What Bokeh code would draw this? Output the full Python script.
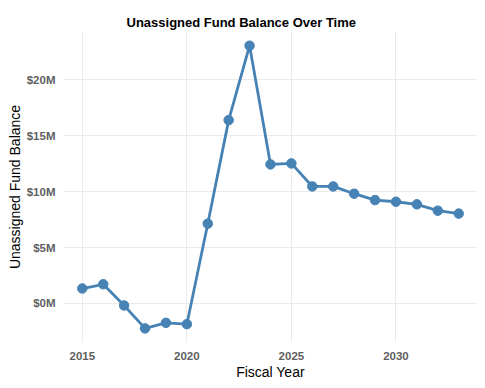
from bokeh.plotting import figure
from bokeh.models import FixedTicker, Range1d
from bokeh.embed import file_html
from bokeh.resources import INLINE

years = [2015, 2016, 2017, 2018, 2019, 2020, 2021, 2022, 2023, 2024,
         2025, 2026, 2027, 2028, 2029, 2030, 2031, 2032, 2033]
balance_m = [1.34, 1.72, -0.18, -2.23, -1.73, -1.85, 7.14, 16.4, 23.06, 12.44,
             12.53, 10.47, 10.47, 9.82, 9.25, 9.10, 8.87, 8.30, 8.04]
x_ticks = [2015, 2020, 2025, 2030]
y_ticks = [0, 5, 10, 15, 20]
y_tick_labels = ["$0M", "$5M", "$10M", "$15M", "$20M"]

FONT = "Liberation Sans"
COLOR = "#4682B4"

p = figure(frame_width=414, frame_height=311, output_backend="svg", toolbar_location=None,
           title="Unassigned Fund Balance Over Time",
           x_range=Range1d(2014.1, 2033.9), y_range=Range1d(-3.49, 24.33),
           min_border_left=63, min_border_right=0, min_border_top=31, min_border_bottom=36)

p.outline_line_color = None
p.background_fill_color = "white"
p.border_fill_color = "white"

p.title.text_font = FONT
p.title.text_font_size = "13px"
p.title.text_font_style = "bold"
p.title.text_color = "black"
p.title.align = "left"
p.title.offset = 63
p.title.standoff = 4

p.line(years, balance_m, line_color=COLOR, line_width=2.8)
p.scatter(years, balance_m, size=9.5, fill_color=COLOR, line_color=COLOR)

for ax in (p.xaxis[0], p.yaxis[0]):
    ax.axis_line_color = None
    ax.major_tick_line_color = None
    ax.minor_tick_line_color = None
    ax.major_tick_out = 0
    ax.major_tick_in = 0
    ax.minor_tick_out = 0
    ax.minor_tick_in = 0
    ax.major_label_text_font = FONT
    ax.major_label_text_font_size = "11.5px"
    ax.major_label_text_font_style = "bold"
    ax.major_label_text_color = "#5f5f5f"
    ax.axis_label_text_font = FONT
    ax.axis_label_text_font_size = "14px"
    ax.axis_label_text_font_style = "normal"
    ax.axis_label_text_color = "black"

p.xaxis.ticker = FixedTicker(ticks=x_ticks)
p.yaxis.ticker = FixedTicker(ticks=y_ticks)
p.yaxis.major_label_overrides = {t: l for t, l in zip(y_ticks, y_tick_labels)}
p.xaxis.axis_label = "Fiscal Year"
p.yaxis.axis_label = "Unassigned Fund Balance"
p.xaxis.major_label_standoff = 9
p.xaxis.axis_label_standoff = 1
p.yaxis.major_label_standoff = 8
p.yaxis.axis_label_standoff = 1

p.xgrid.grid_line_color = "#ebebeb"
p.ygrid.grid_line_color = "#ebebeb"
p.xgrid.grid_line_width = 1
p.ygrid.grid_line_width = 1

open("out.html", "w").write(file_html(p, INLINE))
